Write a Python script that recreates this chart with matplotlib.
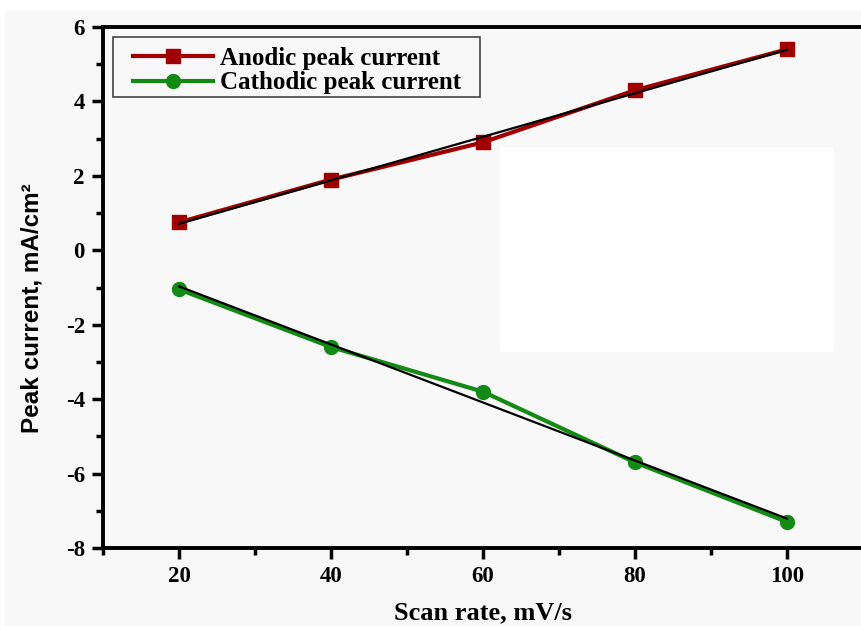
import numpy as np
import matplotlib.pyplot as plt
from matplotlib.patches import FancyBboxPatch, Rectangle
from matplotlib.ticker import MultipleLocator

# scan rates (mV/s) and peak currents (mA/cm2)
scan_rate = [20, 40, 60, 80, 100]
anodic = [0.75, 1.9, 2.9, 4.3, 5.4]
cathodic = [-1.05, -2.6, -3.8, -5.7, -7.3]

serif = ['Liberation Serif', 'DejaVu Serif']
sans = ['Liberation Sans', 'DejaVu Sans']
plt.rcParams['axes.unicode_minus'] = False

fig = plt.figure(figsize=(8.61, 6.26), dpi=100)
fig.patch.set_facecolor('#f8f8f8')
# white strip along the top and left edge
fig.patches.append(Rectangle((0, 1 - 10 / 626), 1, 10 / 626, transform=fig.transFigure,
                             facecolor='white', edgecolor='none', zorder=0))
fig.patches.append(Rectangle((0, 0), 5 / 861, 1, transform=fig.transFigure,
                             facecolor='white', edgecolor='none', zorder=0))

ax = fig.add_axes([103 / 861, 1 - 548 / 626, 760 / 861, 521 / 626])
ax.set_facecolor('none')

ax.plot(scan_rate, anodic, color='#a00000', lw=3, marker='s', ms=10,
        label='Anodic peak current', zorder=3)
ax.plot(scan_rate, cathodic, color='#138a13', lw=3, marker='o', ms=10,
        label='Cathodic peak current', zorder=3)

# linear fits
xs = np.array(scan_rate, dtype=float)
for ys in (anodic, cathodic):
    k, b = np.polyfit(xs, ys, 1)
    ax.plot(xs, k * xs + b, color='black', lw=1.6, zorder=4)

ax.set_xlim(10, 110)
ax.set_ylim(-8, 6)
ax.xaxis.set_minor_locator(MultipleLocator(10))
ax.yaxis.set_major_locator(MultipleLocator(2))
ax.yaxis.set_minor_locator(MultipleLocator(1))
ax.set_xticks([20, 40, 60, 80, 100])

for side in ['left', 'bottom', 'top', 'right']:
    ax.spines[side].set_linewidth(2.8)
ax.tick_params(which='major', direction='out', length=8, width=2.5, pad=5,
               top=False, right=False)
ax.tick_params(which='minor', direction='out', length=5, width=2.5,
               top=False, right=False)
for lab in ax.get_xticklabels() + ax.get_yticklabels():
    lab.set_family(serif)
    lab.set_fontweight('bold')
    lab.set_fontsize(16.5)

ax.set_xlabel('Scan rate, mV/s', family=serif, fontweight='bold', fontsize=19, labelpad=10)
ax.set_ylabel('Peak current, mA/cm²', family=sans, fontweight='bold', fontsize=17.5)
ax.yaxis.set_label_coords(-0.078, 0.46)

# legend entries without frame, box drawn separately
ax.add_patch(Rectangle((10 / 760, (548 - 97) / 521), 367 / 760, 60 / 521,
                       transform=ax.transAxes, facecolor='#f8f8f8',
                       edgecolor='#444444', lw=1.2, zorder=6))
leg = ax.legend(loc='upper left', bbox_to_anchor=(30 / 760, (548 - 47) / 521),
                borderaxespad=0, borderpad=0, frameon=False,
                handlelength=3.2, handletextpad=0.3, labelspacing=0.05,
                prop={'family': serif, 'weight': 'bold', 'size': 18})
leg.set_zorder(7)

# blank white panel inside the plot area
fig.patches.append(FancyBboxPatch((500 / 861, 1 - 352 / 626), 334 / 861, 205 / 626,
                                  boxstyle='round,pad=0,rounding_size=0.004',
                                  transform=fig.transFigure, facecolor='white',
                                  edgecolor='none', zorder=5))

fig.savefig('out.png', dpi=100, facecolor=fig.get_facecolor())
